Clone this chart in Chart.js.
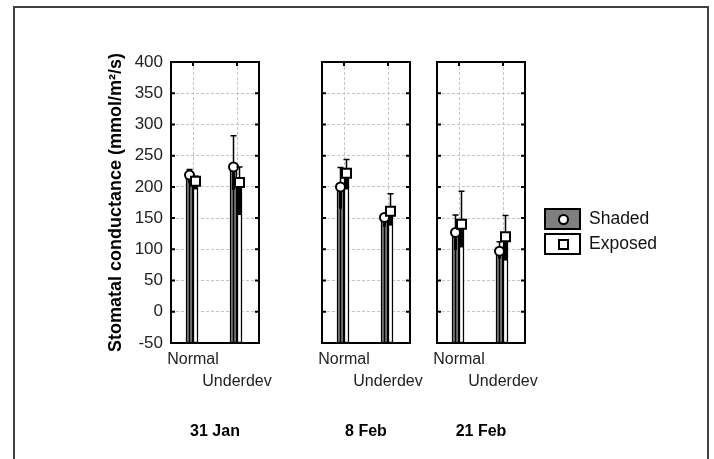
<!DOCTYPE html>
<html>
<head>
<meta charset="utf-8">
<script src="https://cdn.jsdelivr.net/npm/chart.js@4.4.0/dist/chart.umd.min.js"></script>
<style>
  body { margin: 0; background: #fff; width: 714px; height: 459px; overflow: hidden; position: relative;
         font-family: 'Liberation Sans', Arial, sans-serif; }
  #frame { position: absolute; left: 13px; top: 6px; width: 692px; height: 480px;
           border: 2px solid #404040; border-bottom: none; }
  canvas { position: absolute; top: 50px; }
  .leg { position: absolute; left: 544px; height: 22px; font-size: 17.5px; color: #111; line-height: 22px; }
  .leg .box { position: absolute; left: 0; top: 0; width: 33px; height: 18px; border: 2px solid #000; }
  .leg .mk { position: absolute; left: 12px; top: 4px; width: 7px; height: 7px; border: 2px solid #000; background: #fff; }
  .leg span.txt { position: absolute; left: 45px; top: -1px; white-space: nowrap; }
</style>
</head>
<body>
<div id="frame"></div>
<script>
// values, one entry per date, [Normal, Underdev]
const dates = ['31 Jan', '8 Feb', '21 Feb'];
const categories = ['Normal', 'Underdev'];
const seriesNames = ['Shaded', 'Exposed'];
const yMin = -50, yMax = 400, yStep = 50;

const shadedMean = [[219, 232], [200, 151], [127, 97]];
const shadedHigh = [[228, 282], [231, 155], [155, 112]];
const shadedLow  = [[206, 195], [165, 136], [99, 85]];

const exposedMean = [[209, 207], [222, 161], [140, 120]];
const exposedHigh = [[217, 232], [244, 189], [193, 154]];
const exposedLow  = [[196, 155], [196, 138], [103, 82]];

const font = "'Liberation Sans', Arial, sans-serif";

// box round each panel, with inward ticks
const panelFrame = {
  id: 'panelFrame',
  afterDatasetsDraw(chart) {
    const { ctx, chartArea: a, scales: { x, y } } = chart;
    ctx.save();
    ctx.strokeStyle = '#000';
    ctx.lineWidth = 2;
    ctx.strokeRect(a.left, a.top, a.right - a.left, a.bottom - a.top);
    ctx.beginPath();
    y.ticks.forEach(t => {
      const py = y.getPixelForValue(t.value);
      ctx.moveTo(a.left, py); ctx.lineTo(a.left + 4, py);
      ctx.moveTo(a.right, py); ctx.lineTo(a.right - 4, py);
    });
    x.ticks.forEach((t, i) => {
      const px = x.getPixelForTick(i);
      ctx.moveTo(px, a.top); ctx.lineTo(px, a.top + 4);
    });
    ctx.stroke();
    ctx.restore();
  }
};

// error bars + markers at the mean
const errorBars = {
  id: 'errorBars',
  afterDatasetsDraw(chart) {
    const { ctx, scales: { y } } = chart;
    ctx.save();
    ctx.strokeStyle = '#000';
    chart.data.datasets.forEach((ds, di) => {
      chart.getDatasetMeta(di).data.forEach((bar, i) => {
        const x = bar.x;
        const ym = y.getPixelForValue(ds.mean[i]);
        const yl = y.getPixelForValue(ds.low[i]);
        const yh = y.getPixelForValue(ds.high[i]);
        if (ds.marker === 'circle') {
          ctx.lineWidth = 1.5;
          ctx.beginPath(); ctx.moveTo(x, bar.base); ctx.lineTo(x, ym); ctx.stroke();
        }
        ctx.lineWidth = 3;
        ctx.beginPath(); ctx.moveTo(x, yl); ctx.lineTo(x, ym); ctx.stroke();
        ctx.lineWidth = 1.5;
        ctx.beginPath();
        ctx.moveTo(x, ym); ctx.lineTo(x, yh);
        ctx.moveTo(x - 3, yh); ctx.lineTo(x + 3, yh);
        ctx.stroke();
        ctx.fillStyle = '#fff';
        ctx.lineWidth = 2;
        ctx.beginPath();
        if (ds.marker === 'circle') ctx.arc(x, ym, 4.5, 0, Math.PI * 2);
        else ctx.rect(x - 4.5, ym - 4.5, 9, 9);
        ctx.fill(); ctx.stroke();
      });
    });
    ctx.restore();
  }
};

function makePanel(k, left, yw) {
  const cv = document.createElement('canvas');
  cv.width = yw + 88 + 30;
  cv.height = 400;
  cv.style.left = left + 'px';
  document.body.appendChild(cv);

  const grid = { color: '#c4c4c4', lineWidth: 1, drawTicks: false };
  new Chart(cv, {
    type: 'bar',
    data: {
      labels: categories.map((c, i) => i % 2 ? ['', c] : [c, '']),
      datasets: [
        {
          label: seriesNames[0],
          data: shadedMean[k].map(v => [yMin, v]),
          mean: shadedMean[k], low: shadedLow[k], high: shadedHigh[k], marker: 'circle',
          backgroundColor: '#7f7f7f', borderColor: '#000', borderWidth: 1.5, borderSkipped: false,
          barThickness: 7
        },
        {
          label: seriesNames[1],
          data: exposedMean[k].map(v => [yMin, v]),
          mean: exposedMean[k], low: exposedLow[k], high: exposedHigh[k], marker: 'square',
          backgroundColor: '#fff', borderColor: '#000', borderWidth: 1.5, borderSkipped: false,
          barThickness: 5
        }
      ]
    },
    options: {
      responsive: false,
      animation: false,
      layout: { padding: { left: 0, top: 12, right: 30, bottom: 7 } },
      plugins: { legend: { display: false }, tooltip: { enabled: false } },
      scales: {
        x: {
          grid: { ...grid, offset: false },
          border: { display: false, dash: [3, 2] },
          ticks: { font: { family: font, size: 16, lineHeight: 1.375 }, color: '#222', padding: 6,
                   maxRotation: 0, autoSkip: false },
          title: { display: true, text: dates[k], color: '#000',
                   font: { family: font, size: 16, weight: 'bold' }, padding: { top: 0, bottom: 2 } },
          afterFit(s) { s.height = 100; s.paddingLeft = 0; s.paddingRight = 0; }
        },
        y: {
          min: yMin, max: yMax,
          grid: grid,
          border: { display: false, dash: [3, 2] },
          ticks: { stepSize: yStep, display: k === 0, font: { family: font, size: 17 }, color: '#222', padding: 8 },
          title: { display: k === 0, text: 'Stomatal conductance (mmol/m²/s)', color: '#000',
                   font: { family: font, size: 18, weight: 'bold' }, padding: { top: 15, bottom: 0 } },
          afterFit(s) { s.width = yw; s.paddingTop = 0; s.paddingBottom = 0; }
        }
      }
    },
    plugins: [panelFrame, errorBars]
  });
}

makePanel(0, 90, 81);
makePanel(1, 302, 20);
makePanel(2, 417, 20);

// legend
seriesNames.forEach((name, i) => {
  const d = document.createElement('div');
  d.className = 'leg';
  d.style.top = (208 + i * 25) + 'px';
  d.innerHTML = '<div class="box" style="background:' + (i === 0 ? '#7f7f7f' : '#fff') + '">' +
    '<div class="mk" style="border-radius:' + (i === 0 ? '50%' : '0') + '"></div></div>' +
    '<span class="txt">' + name + '</span>';
  document.body.appendChild(d);
});
</script>
</body>
</html>
